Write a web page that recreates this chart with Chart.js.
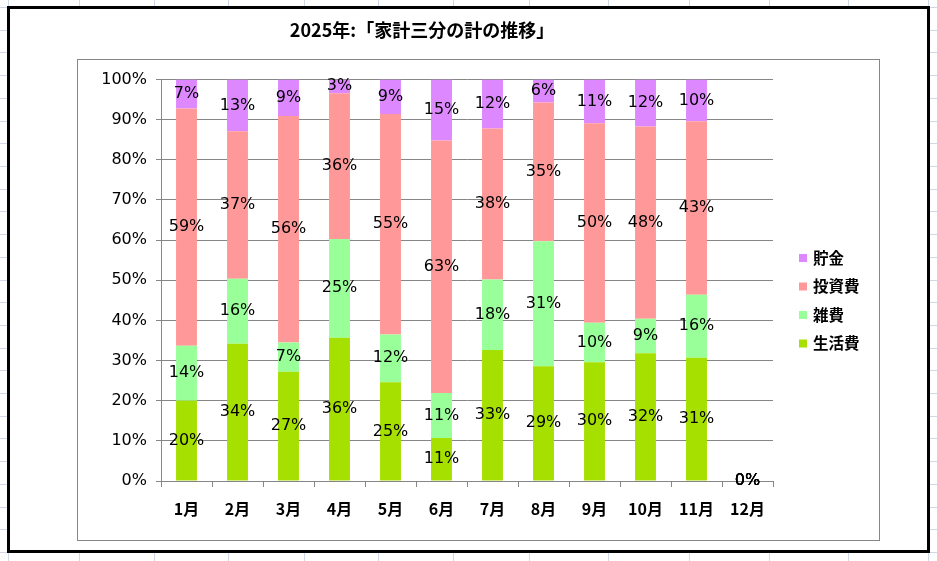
<!DOCTYPE html>
<html lang="ja">
<head>
<meta charset="utf-8">
<title>家計三分の計の推移</title>
<script src="https://cdn.jsdelivr.net/npm/chart.js@4.4.1/dist/chart.umd.min.js"></script>
<style>
html, body { margin: 0; padding: 0; }
body {
    width: 937px; height: 561px; position: relative; overflow: hidden; background: #fff;
    background-image: repeating-linear-gradient(to bottom, #d0d7e5 0, #d0d7e5 1px, transparent 1px, transparent 22.71px);
    background-position: 0 7px;
}
.col { position: absolute; top: 0; height: 561px; width: 1px; background: #d0d7e5; }
#marco { position: absolute; left: 7px; top: 6px; width: 923px; height: 547px; box-sizing: border-box; border: 3px solid #000; background: #fff; }
#grafico { position: absolute; left: 0; top: 0; }
</style>
</head>
<body>
<div id="marco"></div>
<canvas id="grafico" width="937" height="561"></canvas>
<script>
// ==========================================
// 家計三分の計 (2025) - 100% 積み上げ棒
// ==========================================

const meses = ['1月', '2月', '3月', '4月', '5月', '6月', '7月', '8月', '9月', '10月', '11月', '12月'];

// 各月の割合 (%)
const seikatsuhi = [20.0, 34.2, 27.2, 35.7, 24.6, 10.7, 32.6, 28.6, 29.6, 31.8, 30.7, 0];
const zappi      = [13.7, 16.2, 7.3, 24.6, 11.9, 11.2, 17.6, 31.1, 9.8, 8.6, 15.7, 0];
const toushihi   = [59.1, 36.7, 56.4, 36.3, 54.9, 62.9, 37.6, 34.6, 49.7, 47.9, 43.2, 0];
const chokin     = [7.2, 12.9, 9.1, 3.4, 8.6, 15.2, 12.2, 5.7, 10.9, 11.7, 10.4, 0];

const seriesNombres = ['生活費', '雑費', '投資費', '貯金'];
const seriesValores = [seikatsuhi, zappi, toushihi, chokin];
const seriesColores = ['#a6e000', '#99ff99', '#ff9999', '#dd88ff'];

const yTicks = [0, 10, 20, 30, 40, 50, 60, 70, 80, 90, 100];

const GRIS = '#868686';
const FUENTE_NUM = '"DejaVu Sans", sans-serif';
const FUENTE_JP = '"Noto Sans CJK JP", sans-serif';

// lineas de la hoja de calculo (columnas)
[8, 79, 154, 228, 304, 378, 453, 529, 608, 689, 769, 848, 928].forEach(x => {
    const d = document.createElement('div');
    d.className = 'col';
    d.style.left = x + 'px';
    document.body.insertBefore(d, document.body.firstChild);
});

// Plugin: titulo + borde del area de trazado
const fondo = {
    id: 'fondo',
    beforeDraw(chart) {
        const ctx = chart.ctx;
        ctx.save();
        ctx.strokeStyle = GRIS;
        ctx.lineWidth = 1;
        ctx.strokeRect(77.5, 59.5, 802, 481);
        ctx.font = 'bold 18px ' + FUENTE_JP;
        ctx.fillStyle = '#000';
        ctx.textAlign = 'center';
        ctx.textBaseline = 'middle';
        ctx.fillText('2025年:「家計三分の計の推移」', 422, 30);
        ctx.restore();
    }
};

// Plugin: etiquetas de datos centradas en cada segmento
const etiquetas = {
    id: 'etiquetas',
    afterDatasetsDraw(chart) {
        const ctx = chart.ctx;
        ctx.save();
        ctx.font = '16px ' + FUENTE_NUM;
        ctx.fillStyle = '#000';
        ctx.textAlign = 'center';
        ctx.textBaseline = 'middle';
        chart.data.datasets.forEach((ds, i) => {
            chart.getDatasetMeta(i).data.forEach((bar, j) => {
                const v = ds.data[j];
                ctx.fillText(Math.round(v) + '%', bar.x, (bar.y + bar.base) / 2);
            });
        });
        ctx.restore();
    }
};

// Plugin: leyenda a la derecha (orden inverso)
const leyenda = {
    id: 'leyenda',
    afterDraw(chart) {
        const ctx = chart.ctx;
        ctx.save();
        ctx.font = 'bold 15.5px ' + FUENTE_JP;
        ctx.textAlign = 'left';
        ctx.textBaseline = 'middle';
        const ds = chart.data.datasets.slice().reverse();
        ds.forEach((d, k) => {
            const y = 258 + k * 28.5;
            ctx.fillStyle = d.backgroundColor;
            ctx.fillRect(799, y - 4, 8, 8);
            ctx.fillStyle = '#000';
            ctx.fillText(d.label, 813, y);
        });
        ctx.restore();
    }
};

const ctx = document.getElementById('grafico').getContext('2d');

new Chart(ctx, {
    type: 'bar',
    data: {
        labels: meses,
        datasets: seriesNombres.map((n, i) => ({
            label: n,
            data: seriesValores[i],
            backgroundColor: seriesColores[i],
            borderWidth: 0,
            barPercentage: 0.41,
            categoryPercentage: 1
        }))
    },
    options: {
        responsive: false,
        animation: false,
        layout: { padding: { left: 91, right: 164, top: 79.5, bottom: 40 } },
        plugins: { legend: { display: false }, tooltip: { enabled: false } },
        scales: {
            x: {
                stacked: true,
                afterFit: s => { s.height = 40; },
                grid: { offset: true, drawOnChartArea: false, drawTicks: true, tickLength: 6, color: GRIS },
                border: { color: GRIS },
                ticks: { color: '#000', padding: 12, font: { family: FUENTE_JP, size: 16, weight: 'bold' } }
            },
            y: {
                stacked: true,
                min: 0, max: 100,
                afterFit: s => { s.width = 70; },
                afterBuildTicks: s => { s.ticks = yTicks.map(v => ({ value: v })); },
                grid: { color: GRIS, tickLength: 5 },
                border: { color: GRIS },
                ticks: { color: '#000', padding: 9, font: { family: FUENTE_NUM, size: 16 }, callback: v => v + '%' }
            }
        }
    },
    plugins: [fondo, etiquetas, leyenda]
});
</script>
</body>
</html>
